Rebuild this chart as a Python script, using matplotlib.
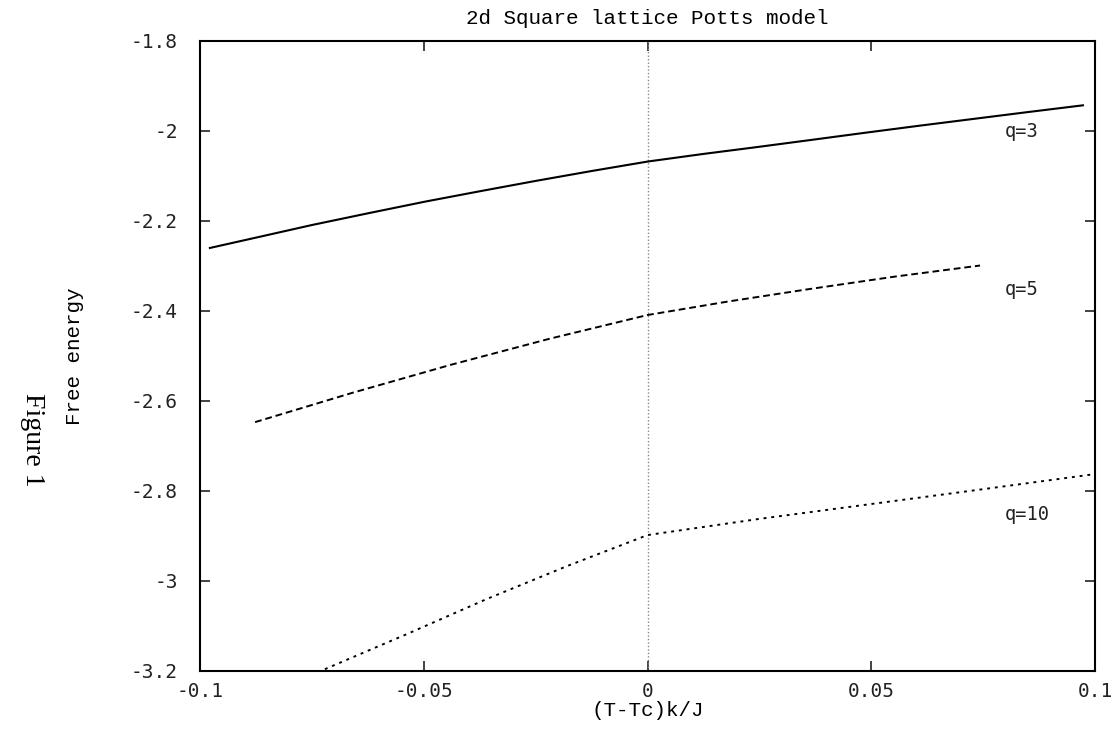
import matplotlib.pyplot as plt

# free energy, (T-Tc)k/J vs F
x_q3 = [-0.0978, -0.0875, -0.075, -0.0625, -0.0497, -0.0375, -0.025, -0.0125,
        0.0, 0.0125, 0.0243, 0.0365, 0.0486, 0.061, 0.073, 0.085, 0.0973]
f_q3 = [-2.260, -2.237, -2.209, -2.183, -2.157, -2.134, -2.111, -2.089,
        -2.068, -2.051, -2.036, -2.020, -2.004, -1.988, -1.973, -1.958, -1.943]

x_q5 = [-0.0877, -0.066, -0.0441, -0.022, 0.0, 0.018, 0.0357, 0.055, 0.0743]
f_q5 = [-2.647, -2.582, -2.520, -2.462, -2.409, -2.379, -2.352, -2.324, -2.299]

x_q10 = [-0.0721, -0.054, -0.0359, -0.018, 0.0, 0.025, 0.05, 0.075, 0.0996]
f_q10 = [-3.196, -3.119, -3.040, -2.967, -2.898, -2.862, -2.829, -2.796, -2.763]

labels = ['q=3', 'q=5', 'q=10']
label_y = [-2.002, -2.353, -2.853]

mono = 'DejaVu Sans Mono'
courier = 'Liberation Mono'

fig = plt.figure(figsize=(11.2, 7.29), dpi=100)
ax = fig.add_axes([0.1786, 0.0796, 0.7991, 0.8642])

ax.axvline(0, color='#888888', linestyle=(0, (1, 1.5)), linewidth=1.0)
ax.plot(x_q3, f_q3, color='black', linewidth=1.5, linestyle='-')
ax.plot(x_q5, f_q5, color='black', linewidth=1.4, linestyle=(0, (3.5, 2)))
ax.plot(x_q10, f_q10, color='black', linewidth=1.4, linestyle=(0, (1.5, 2.5)))

for lab, yv in zip(labels, label_y):
    ax.text(0.0798, yv, lab, fontsize=13.5, family=mono, color='#222222',
            ha='left', va='center')

ax.set_xlim(-0.1, 0.1)
ax.set_ylim(-3.2, -1.8)
ax.set_xticks([-0.1, -0.05, 0, 0.05, 0.1])
ax.set_xticklabels(['-0.1', '-0.05', '0', '0.05', '0.1'])
ax.set_yticks([-3.2, -3.0, -2.8, -2.6, -2.4, -2.2, -2.0, -1.8])
ax.set_yticklabels(['-3.2', '-3', '-2.8', '-2.6', '-2.4', '-2.2', '-2', '-1.8'])

ax.tick_params(direction='in', length=7, width=1.2, top=True, right=True,
               labelsize=14, colors='#222222')
ax.tick_params(axis='x', pad=8)
ax.tick_params(axis='y', pad=16)
for lab in ax.get_xticklabels() + ax.get_yticklabels():
    lab.set_family(mono)
for sp in ax.spines.values():
    sp.set_linewidth(1.5)

ax.set_title('2d Square lattice Potts model', family=courier, fontsize=15, pad=12)
ax.set_xlabel('(T-Tc)k/J', family=courier, fontsize=15, labelpad=0)
ax.set_ylabel('Free energy', family=courier, fontsize=15, labelpad=34)

fig.text(0.029, 0.397, 'Figure 1', family='Liberation Serif', fontsize=20,
         rotation=-90, ha='center', va='center')

plt.savefig('out.png', dpi=100)
